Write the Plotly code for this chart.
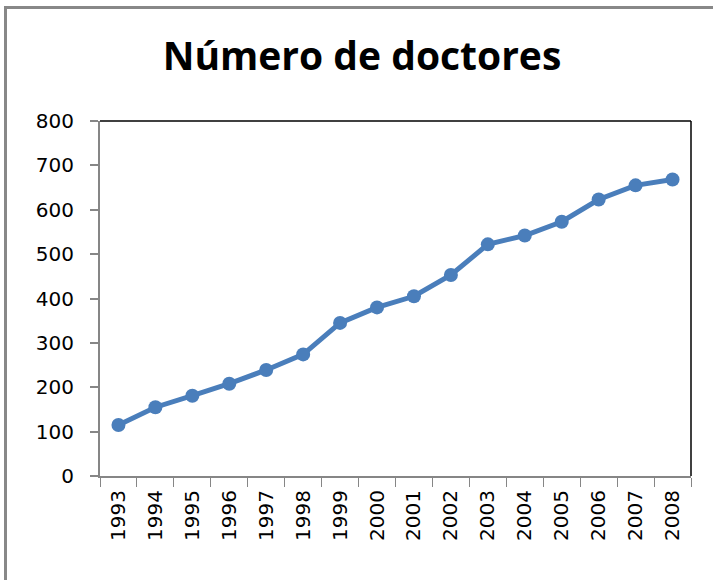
import plotly.graph_objects as go

years = ["1993", "1994", "1995", "1996", "1997", "1998", "1999", "2000",
         "2001", "2002", "2003", "2004", "2005", "2006", "2007", "2008"]
doctores = [115, 155, 181, 208, 239, 274, 345, 380,
            405, 453, 522, 542, 573, 623, 655, 668]
y_ticks = [0, 100, 200, 300, 400, 500, 600, 700, 800]

W, H = 713, 580
L, R, T, B = 100, 22, 121, 104

fig = go.Figure()
fig.add_trace(go.Scatter(
    x=years, y=doctores, mode="lines+markers",
    line=dict(color="#4A7EBB", width=5),
    marker=dict(color="#4A7EBB", size=14),
    showlegend=False, hoverinfo="x+y",
))

pw = W - L - R
ph = H - T - B
def px(x):
    return (x - L) / pw
def py(y):
    return (H - B - y) / ph

fig.update_layout(
    width=W, height=H,
    margin=dict(l=L, r=R, t=T, b=B),
    paper_bgcolor="white", plot_bgcolor="white",
    title=dict(text="<b>Número de doctores</b>", x=362 / W, xanchor="center",
               xref="container",
               y=1 - 56 / H, yanchor="middle",
               font=dict(family="Open Sans", size=39, color="black")),
    font=dict(family="DejaVu Sans", color="black"),
    xaxis=dict(
        type="category", tickvals=years, ticktext=years,
        tickangle=-90, tickfont=dict(size=20, family="DejaVu Sans"),
        showgrid=False, showline=True, linecolor="#868686", linewidth=2,
        ticks="outside", ticklen=9, tickcolor="#868686", tickwidth=1,
        tickson="boundaries", mirror=False, range=[-0.5, 15.5],
        zeroline=False, ticklabelstandoff=4,
    ),
    yaxis=dict(
        range=[0, 800], tickvals=y_ticks, ticktext=[str(v) for v in y_ticks],
        tickfont=dict(size=20, family="DejaVu Sans"),
        showgrid=False, showline=True, linecolor="#868686", linewidth=2,
        ticks="outside", ticklen=8, tickcolor="#868686", tickwidth=2,
        zeroline=False, ticklabelstandoff=12,
    ),
    shapes=[
        dict(type="line", xref="paper", yref="paper", x0=0, x1=1, y0=1, y1=1,
             line=dict(color="black", width=1.5)),
        dict(type="line", xref="paper", yref="paper", x0=1, x1=1, y0=0, y1=1,
             line=dict(color="black", width=1.5)),
        dict(type="rect", xref="paper", yref="paper",
             x0=px(5.5), x1=px(730), y0=py(7.5), y1=py(600),
             line=dict(color="#888888", width=3), fillcolor="rgba(0,0,0,0)",
             layer="below"),
    ],
)

fig.write_html("out.html", config={"displayModeBar": False},
               post_script="document.body.style.margin='0';")
